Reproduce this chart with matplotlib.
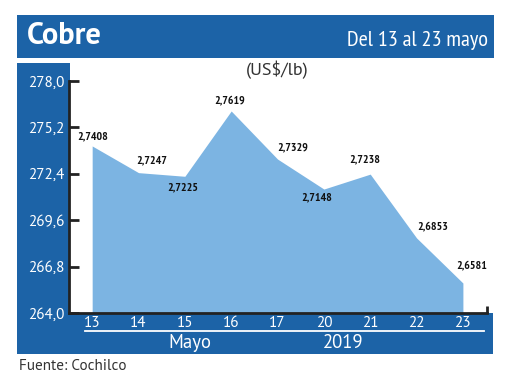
import matplotlib
matplotlib.use("Agg")
import matplotlib.pyplot as plt
from matplotlib.patches import Rectangle
from matplotlib.lines import Line2D

# ---- data ----
days = ["13", "14", "15", "16", "17", "20", "21", "22", "23"]
price_cents = [274.08, 272.47, 272.25, 276.19, 273.29, 271.48, 272.38, 268.53, 265.81]
price_labels = ["2,7408", "2,7247", "2,7225", "2,7619", "2,7329", "2,7148", "2,7238", "2,6853", "2,6581"]
y_ticks = [264.0, 266.8, 269.6, 272.4, 275.2, 278.0]
y_tick_labels = ["264,0", "266,8", "269,6", "272,4", "275,2", "278,0"]
# label offsets in pixels (dx, dy)
label_offsets = [(1, 10), (13, 12), (-2, -11), (-2, 11), (15, 12), (-7, -8), (-5, 15), (16, 12), (9, 18)]

W, H = 520, 390
BLUE = "#1c63a7"
AREA = "#7cb4e2"
SANS = ["PT Sans", "DejaVu Sans"]
NARROW = ["PT Sans Narrow", "DejaVu Sans"]

fig = plt.figure(figsize=(W / 100, H / 100), dpi=100)
fig.patch.set_facecolor("white")


def fx(x):
    return x / W


def fy(y):
    return 1 - y / H


def rect(x0, y0, x1, y1, color, z=-1):
    fig.add_artist(Rectangle((fx(x0), fy(y1)), fx(x1) - fx(x0), fy(y0) - fy(y1),
                             transform=fig.transFigure, facecolor=color,
                             edgecolor="none", zorder=z))


# frame pieces
rect(17, 15, 494, 58, BLUE)
rect(17, 63, 70, 354, BLUE)
rect(17, 313, 493, 354, BLUE)

fig.text(fx(27), fy(36), "Cobre", color="white", fontsize=22, fontweight="bold",
         family=SANS, ha="left", va="center")
fig.text(fx(488), fy(40), "Del 13 al 23 mayo", color="white", fontsize=16,
         family=NARROW, ha="right", va="center")
fig.text(fx(277), fy(70), "(US$/lb)", color="#333333", fontsize=13,
         family=SANS, ha="center", va="center")

# axes
ax = fig.add_axes([fx(69), fy(313), fx(487) - fx(69), fy(81) - fy(313)])
ax.set_facecolor("none")
xs = list(range(len(days)))
ax.fill_between(xs, price_cents, 264.0, color=AREA, linewidth=0, zorder=1)
ax.set_xlim(-0.5, 8.52)
ax.set_ylim(264.0, 278.0)

for s in ["top", "right"]:
    ax.spines[s].set_visible(False)
ax.spines["left"].set_linewidth(2)
ax.spines["bottom"].set_linewidth(2)
ax.spines["left"].set_color("#222222")
ax.spines["bottom"].set_color("#222222")

ax.set_yticks(y_ticks)
ax.set_yticklabels(y_tick_labels)
ax.tick_params(axis="y", direction="in", length=7.5, width=2, color="#222222",
               labelcolor="white", labelsize=11, pad=3)
ax.set_xticks(xs)
ax.set_xticklabels(days)
ax.tick_params(axis="x", length=0, labelcolor="white", labelsize=11, pad=2)
for lab in ax.get_xticklabels() + ax.get_yticklabels():
    lab.set_family(SANS)

# small end tick at right
ax.plot([1, 1], [0, 0.03], transform=ax.transAxes, color="#222222", lw=2,
        clip_on=False, solid_capstyle="butt")

for x, v, t, (dx, dy) in zip(xs, price_cents, price_labels, label_offsets):
    ax.annotate(t, (x, v), xytext=(dx, dy), textcoords="offset pixels",
                ha="center", va="center", fontsize=8.5, fontweight="bold",
                family=NARROW, color="#111111", zorder=3)

# bottom band decorations
fig.add_artist(Line2D([fx(85), fx(484)], [fy(331), fy(331)], color="white", lw=1.3,
                      transform=fig.transFigure))
fig.text(fx(189.5), fy(343), "Mayo", color="white", fontsize=13.5, family=SANS,
         ha="center", va="center")
fig.text(fx(343), fy(343), "2019", color="white", fontsize=13.5, family=SANS,
         ha="center", va="center")

fig.text(fx(19), fy(366), "Fuente: Cochilco", color="#333333", fontsize=11,
         family=SANS, ha="left", va="center")

fig.savefig("out.png", dpi=100, facecolor="white")
